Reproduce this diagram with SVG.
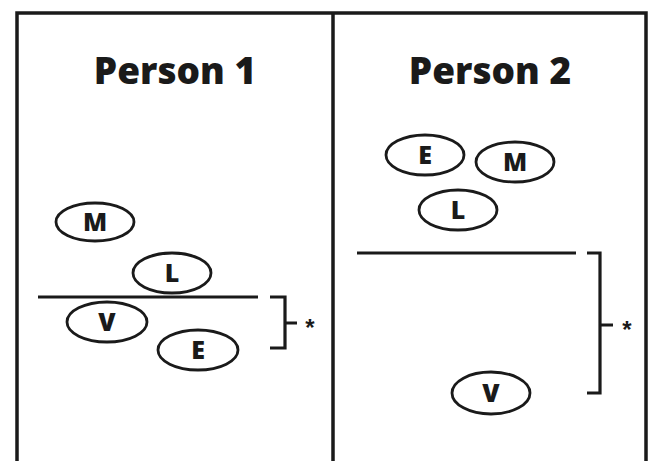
<svg xmlns="http://www.w3.org/2000/svg" width="651" height="461" viewBox="0 0 651 461">
<style>
.frame{fill:none;stroke:#1a1a1a;stroke-width:3.5}
.node ellipse{fill:#fff;stroke:#1a1a1a;stroke-width:2.8}
.node text{font-family:"Open Sans","Liberation Sans",sans-serif;font-weight:800;font-size:25px;fill:#1a1a1a;text-anchor:middle}
.title{font-family:"Open Sans","Liberation Sans",sans-serif;font-weight:800;font-size:37px;fill:#1a1a1a;text-anchor:middle}
.ln{stroke:#1a1a1a;stroke-width:3.2;fill:none}
.star{font-family:"Liberation Sans",sans-serif;font-weight:bold;font-size:24px;fill:#1a1a1a;text-anchor:middle}
</style>
<rect width="651" height="461" fill="#fff"/>
<path class="frame" d="M17,463 V13 H646 V463 M333,13 V463"/>
<text class="title" x="175" y="84">Person 1</text>
<text class="title" x="490" y="84">Person 2</text>
<g id="connectors">
<path class="ln" d="M38,297 H258"/>
<path class="ln" d="M270,297 H285 V348 H270 M285,323 H297"/>
<path class="ln" d="M357,253 H576"/>
<path class="ln" d="M587,253 H600 V393 H587 M600,325 H613"/>
</g>
<text class="star" x="310" y="336">*</text>
<text class="star" x="627" y="338">*</text>
<g id="p1-M" class="node"><ellipse cx="95" cy="222" rx="39" ry="19"/><text x="95" y="231">M</text></g>
<g id="p1-L" class="node"><ellipse cx="172" cy="273" rx="39" ry="20"/><text x="172" y="282">L</text></g>
<g id="p1-V" class="node"><ellipse cx="107" cy="322" rx="40" ry="20"/><text x="107" y="331">V</text></g>
<g id="p1-E" class="node"><ellipse cx="198" cy="350" rx="40" ry="20"/><text x="198" y="359">E</text></g>
<g id="p2-E" class="node"><ellipse cx="425" cy="155" rx="39" ry="20"/><text x="425" y="164">E</text></g>
<g id="p2-M" class="node"><ellipse cx="515" cy="162" rx="39" ry="20"/><text x="515" y="171">M</text></g>
<g id="p2-L" class="node"><ellipse cx="458" cy="210" rx="39" ry="20"/><text x="458" y="219">L</text></g>
<g id="p2-V" class="node"><ellipse cx="491" cy="393" rx="39" ry="21"/><text x="491" y="402">V</text></g>
</svg>
